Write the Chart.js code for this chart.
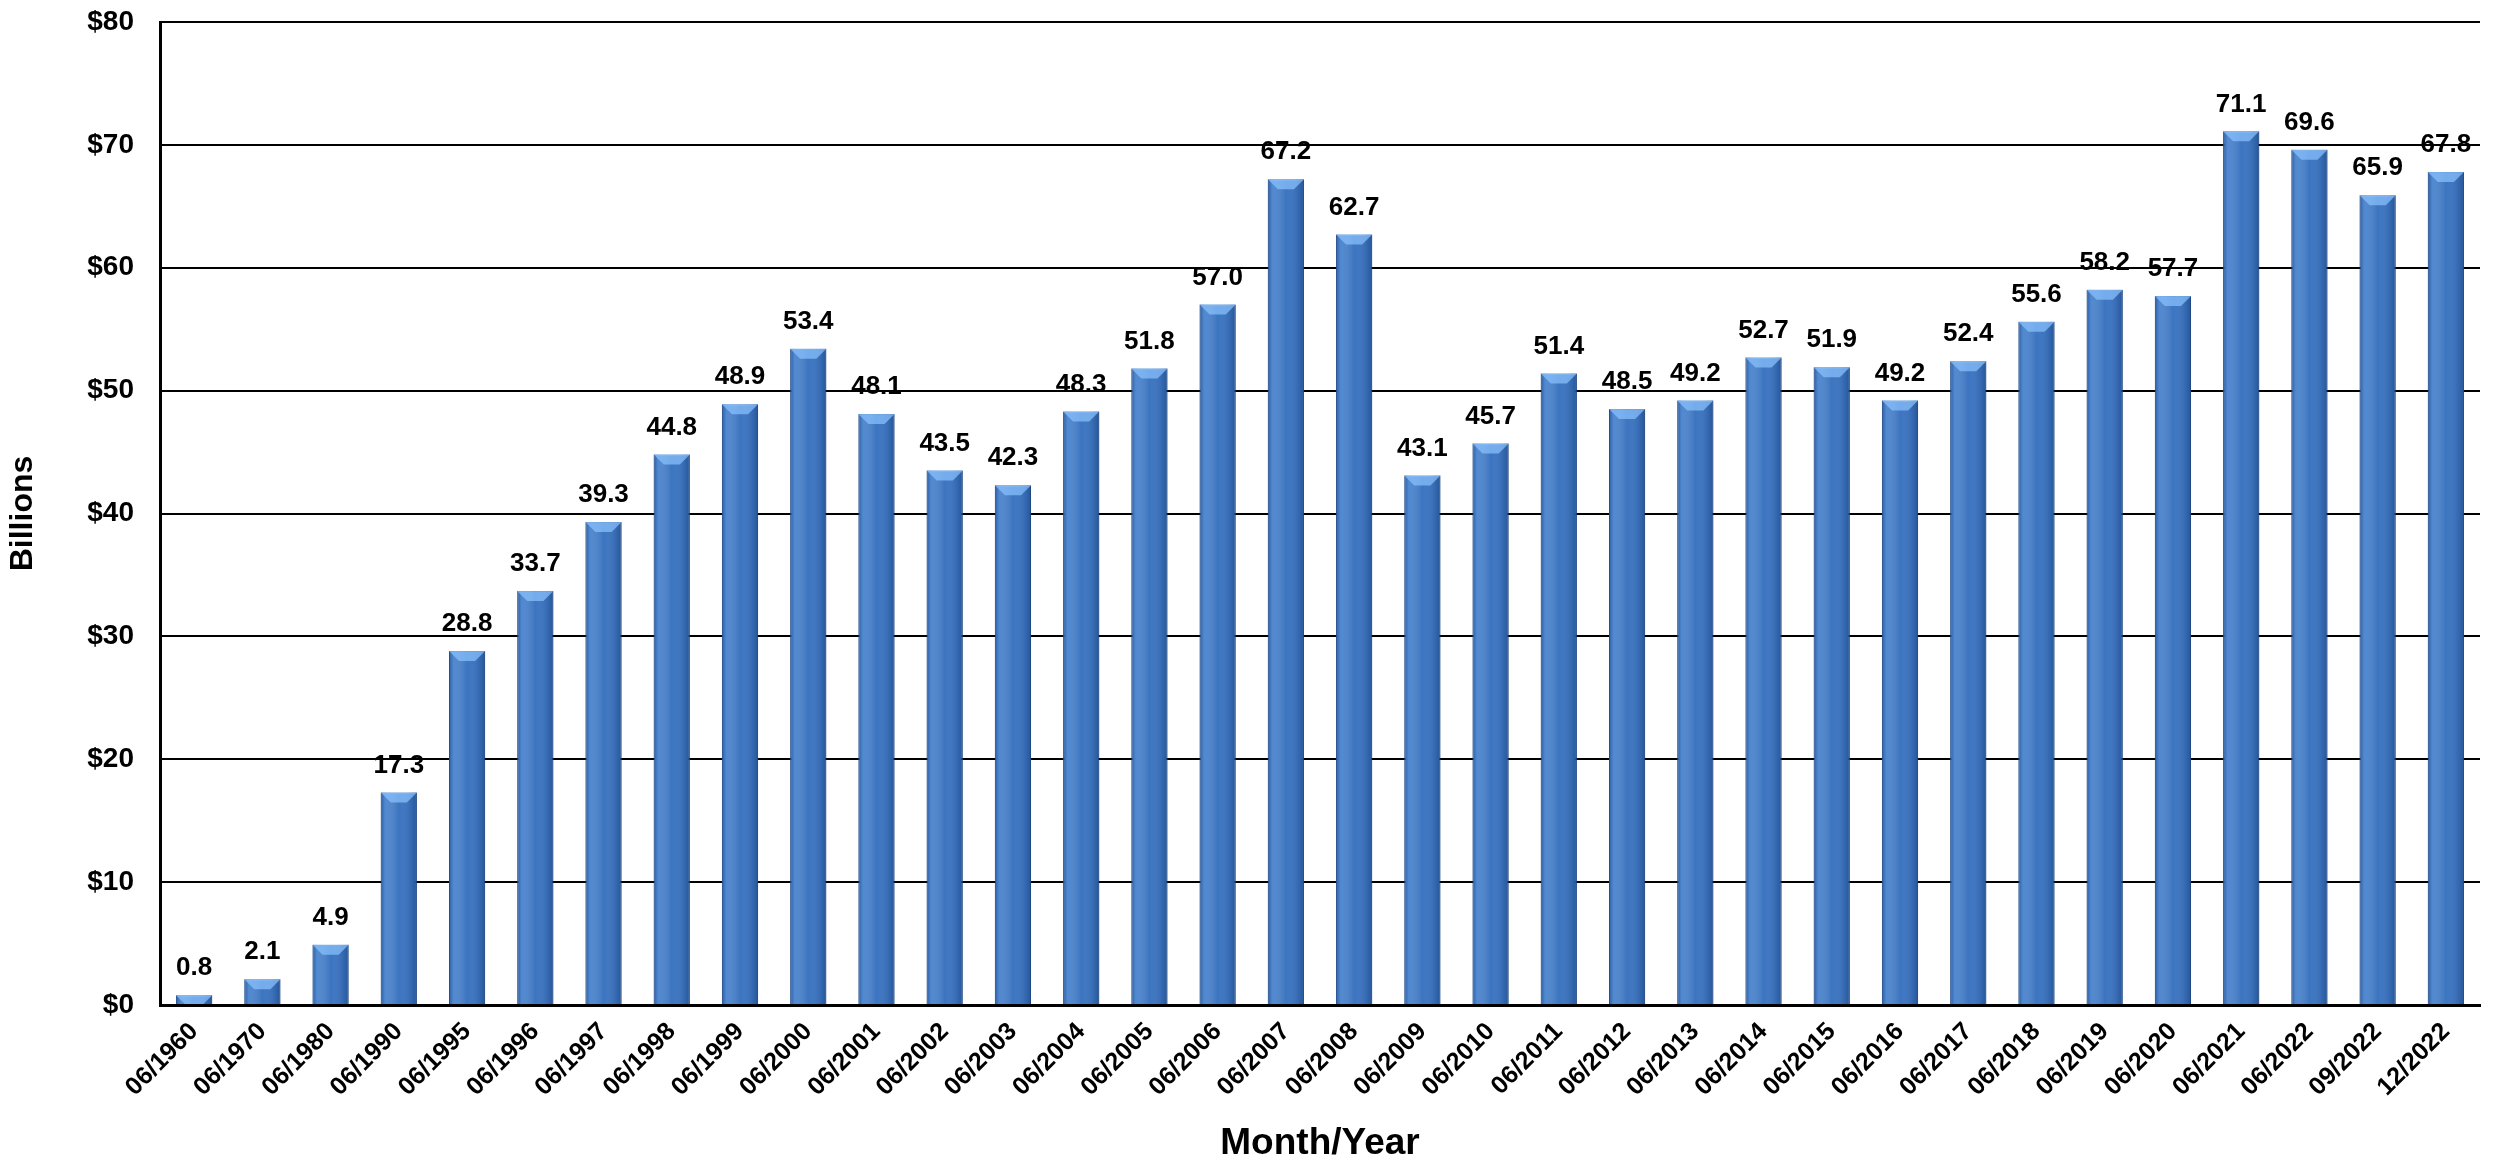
<!DOCTYPE html>
<html><head><meta charset="utf-8">
<script src="https://cdn.jsdelivr.net/npm/chart.js@4"></script>
<style>html,body{margin:0;padding:0;background:#fff}#w{width:2502px;height:1174px}</style>
</head><body><div id="w"><canvas id="c"></canvas></div>
<script>
const categories=["06/1960","06/1970","06/1980","06/1990","06/1995","06/1996","06/1997","06/1998","06/1999","06/2000","06/2001","06/2002","06/2003","06/2004","06/2005","06/2006","06/2007","06/2008","06/2009","06/2010","06/2011","06/2012","06/2013","06/2014","06/2015","06/2016","06/2017","06/2018","06/2019","06/2020","06/2021","06/2022","09/2022","12/2022"];
const values=[0.8,2.1,4.9,17.3,28.8,33.7,39.3,44.8,48.9,53.4,48.1,43.5,42.3,48.3,51.8,57.0,67.2,62.7,43.1,45.7,51.4,48.5,49.2,52.7,51.9,49.2,52.4,55.6,58.2,57.7,71.1,69.6,65.9,67.8];
const yTicks=[0,10,20,30,40,50,60,70,80];
const FONT="'Liberation Sans', Arial, sans-serif";
const labelPlugin={id:'lbl',afterDatasetsDraw(ch){const ctx=ch.ctx;const m=ch.getDatasetMeta(0);ctx.save();
m.data.forEach(b=>{const w=b.width,x0=b.x-w/2,top=b.y,bot=b.base;const g=ctx.createLinearGradient(x0,0,x0+w,0);
g.addColorStop(0,'rgba(20,50,100,0.35)');g.addColorStop(0.12,'rgba(120,175,240,0.35)');g.addColorStop(0.5,'rgba(255,255,255,0)');g.addColorStop(0.85,'rgba(10,40,90,0.15)');g.addColorStop(1,'rgba(10,40,90,0.4)');
ctx.fillStyle=g;ctx.fillRect(x0,top,w,bot-top);
const h=Math.min(10,bot-top);ctx.fillStyle='rgba(140,195,255,0.7)';ctx.beginPath();ctx.moveTo(x0,top);ctx.lineTo(x0+w,top);ctx.lineTo(x0+w-h,top+h);ctx.lineTo(x0+h,top+h);ctx.closePath();ctx.fill();});
ctx.font="bold 26px "+FONT;ctx.fillStyle="#000";ctx.textAlign="center";ctx.textBaseline="bottom";m.data.forEach((b,i)=>{ctx.fillText(values[i].toFixed(1),b.x,b.y-14);});ctx.restore();}};
new Chart(document.getElementById('c'),{type:'bar',
data:{labels:categories,datasets:[{data:values,backgroundColor:'#3b74c0',borderColor:'#2a5a9c',borderWidth:1,categoryPercentage:1,barPercentage:0.53}]},
options:{responsive:true,maintainAspectRatio:false,animation:false,
layout:{padding:{top:22,right:22,left:0,bottom:0}},
plugins:{legend:{display:false},tooltip:{enabled:false}},
scales:{
x:{grid:{display:false,drawTicks:false},border:{color:'#000',width:3},
ticks:{color:'#000',font:{family:FONT,size:25,weight:'bold'},maxRotation:45,minRotation:45,padding:12,autoSkip:false},
title:{display:true,text:'Month/Year',color:'#000',font:{family:FONT,size:37,weight:'bold'},padding:{top:0,bottom:8}},
afterFit(s){s.height=169;s.paddingTop=0;s.paddingLeft=0;s.paddingRight=0;}},
y:{min:0,max:80,afterBuildTicks(s){s.ticks=yTicks.map(v=>({value:v}));},
grid:{color:'#000',lineWidth:2,drawTicks:false},border:{color:'#000',width:3},
ticks:{color:'#000',font:{family:FONT,size:28,weight:'bold'},padding:26,callback:v=>'$'+v},
title:{display:true,text:'Billions',color:'#000',font:{family:FONT,size:32,weight:'bold'},padding:{bottom:12}},
afterFit(s){s.width=160;s.paddingTop=0;s.paddingBottom=0;}}
}},plugins:[labelPlugin]});
</script></body></html>
